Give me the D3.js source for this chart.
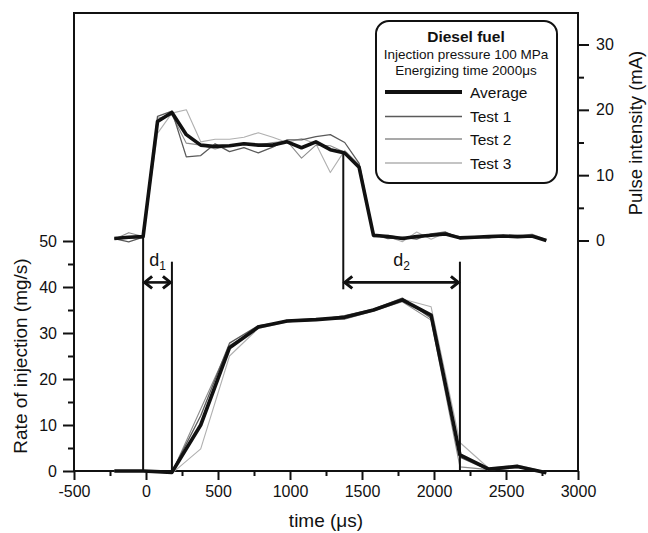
<!DOCTYPE html>
<html>
<head>
<meta charset="utf-8">
<script src="https://cdn.jsdelivr.net/npm/d3@7"></script>
<style>
    body { margin: 0; background: #fff; }
    svg { display: block; font-family: "Liberation Sans", Arial, sans-serif; }
</style>
</head>
<body>
<div id="graphContainer"></div>
<script>
"use strict";

// Pulse intensity (mA), sampled every 100 us
const pulseTime = [-220, -120, -20, 80, 180, 280, 380, 480, 580, 680, 780, 880, 980, 1080, 1180, 1280,
    1380, 1480, 1580, 1680, 1780, 1880, 1980, 2080, 2180, 2280, 2380, 2480, 2580, 2680, 2780];
const pulseAvg = [0.3, 0.5, 0.6, 18.2, 19.6, 16.2, 14.6, 14.4, 14.5, 14.8, 14.6, 14.6, 15.1, 14.2, 15.1, 13.9,
    13.4, 11.2, 0.8, 0.6, 0.3, 0.6, 0.8, 1.0, 0.4, 0.5, 0.6, 0.7, 0.6, 0.7, 0.0];
const pulseTest1 = [0.3, -0.2, 0.5, 19.0, 19.8, 12.8, 13.0, 14.8, 13.6, 14.2, 13.4, 14.3, 15.4, 15.4, 15.9, 16.2,
    15.0, 11.8, 0.9, 0.3, 0.5, 0.2, 1.0, 1.3, 0.3, 0.6, 0.4, 0.8, 0.5, 0.6, 0.1];
const pulseTest2 = [0.2, 1.2, 0.6, 18.7, 19.2, 14.9, 14.6, 14.0, 14.5, 14.9, 14.6, 15.0, 15.2, 12.6, 14.6, 14.5,
    13.5, 11.0, 0.6, 0.8, 0.4, 0.4, 0.9, 1.1, 0.6, 0.5, 0.7, 0.6, 0.8, 0.7, 0.0];
const pulseTest3 = [0.4, 0.4, 0.6, 16.4, 19.5, 20.0, 15.1, 15.5, 15.5, 15.8, 16.5, 15.8, 15.0, 15.6, 14.8, 10.4,
    13.8, 11.6, 0.5, 0.6, -0.2, 1.3, 0.2, 1.2, 0.4, 0.4, 0.6, 0.7, 0.6, 1.0, 0.1];

// Rate of injection (mg/s), sampled every 200 us
const rateTime = [-220, -20, 180, 380, 580, 780, 980, 1180, 1380, 1580, 1780, 1980, 2180, 2380, 2580, 2780];
const rateAvg = [0, 0, -0.3, 10.0, 26.8, 31.3, 32.6, 32.9, 33.4, 35.0, 37.2, 33.9, 3.5, 0.4, 1.0, -0.4];
const rateTest1 = [0, 0, -0.2, 12.0, 27.8, 31.6, 32.5, 32.8, 33.8, 35.2, 37.6, 33.2, 3.0, 0.2, 0.8, -0.3];
const rateTest2 = [0, 0, -0.4, 13.5, 27.3, 31.1, 32.8, 33.1, 33.0, 34.8, 36.8, 32.8, 0.9, 0.3, 1.1, -0.5];
const rateTest3 = [0, -0.1, -0.5, 4.8, 25.0, 31.0, 32.4, 32.9, 33.3, 35.0, 37.4, 35.7, 6.2, 0.6, 1.3, -0.2];

// Axis ticks
const xTicks = [-500, 0, 500, 1000, 1500, 2000, 2500, 3000];
const xMinorTicks = [-250, 250, 750, 1250, 1750, 2250, 2750];
const rateTicks = [0, 10, 20, 30, 40, 50];
const rateMinorTicks = [5, 15, 25, 35, 45];
const pulseTicks = [0, 10, 20, 30];
const pulseMinorTicks = [5, 15, 25];

// Delay markers (us) and their heights
const d1Times = [-20, 180];
const d2Times = [1370, 2180];
const d2StartPulse = 13.5;
const arrowRate = 41;
const markerTopRate = 45.5;

const legendTitle = ["Diesel fuel", "Injection pressure 100 MPa", "Energizing time 2000\u03bcs"];
const seriesNames = ["Average", "Test 1", "Test 2", "Test 3"];

const styles = {
    "Average": { color: "#111", width: 3.6 },
    "Test 1": { color: "#5a5a5a", width: 1.3 },
    "Test 2": { color: "#8c8c8c", width: 1.1 },
    "Test 3": { color: "#b0b0b0", width: 1.1 }
};

const graphInfo = {
    width: 648,
    height: 533,
    left: 74,
    right: 578,
    top: 13,
    bottom: 471
};

const svg = d3.select("#graphContainer").append("svg")
    .attr("width", graphInfo.width)
    .attr("height", graphInfo.height);

const xScale = d3.scaleLinear().domain([-500, 3000]).range([graphInfo.left, graphInfo.right]);
const rateScale = d3.scaleLinear().domain([0, 50]).range([graphInfo.bottom, 241]);
const pulseScale = d3.scaleLinear().domain([0, 30]).range([240.5, 44.5]);

// Frame
svg.append("path")
    .attr("fill", "none")
    .attr("stroke", "#111")
    .attr("stroke-width", 2)
    .attr("d", `M${graphInfo.left},${graphInfo.bottom}V${graphInfo.top}H${graphInfo.right}V${graphInfo.bottom}Z`);

function styleAxis(g) {
    g.select(".domain").remove();
    g.selectAll(".tick line").attr("stroke", "#111").attr("stroke-width", 2);
    g.selectAll(".tick text").attr("fill", "#111").attr("font-size", 16)
        .attr("font-family", "'Liberation Sans', Arial, sans-serif");
}

// Bottom axis
svg.append("g")
    .attr("transform", `translate(0,${graphInfo.bottom})`)
    .call(d3.axisBottom(xScale).tickValues(xTicks).tickSize(9).tickPadding(6).tickFormat(d => String(d)))
    .call(styleAxis);
svg.append("g")
    .attr("transform", `translate(0,${graphInfo.bottom})`)
    .call(d3.axisBottom(xScale).tickValues(xMinorTicks).tickSize(5).tickFormat(""))
    .call(styleAxis);

// Left axis
svg.append("g")
    .attr("transform", `translate(${graphInfo.left},0)`)
    .call(d3.axisLeft(rateScale).tickValues(rateTicks).tickSize(11).tickPadding(6))
    .call(styleAxis);
svg.append("g")
    .attr("transform", `translate(${graphInfo.left},0)`)
    .call(d3.axisLeft(rateScale).tickValues(rateMinorTicks).tickSize(6).tickFormat(""))
    .call(styleAxis);

// Right axis
svg.append("g")
    .attr("transform", `translate(${graphInfo.right},0)`)
    .call(d3.axisRight(pulseScale).tickValues(pulseTicks).tickSize(11).tickPadding(7))
    .call(styleAxis);
svg.append("g")
    .attr("transform", `translate(${graphInfo.right},0)`)
    .call(d3.axisRight(pulseScale).tickValues(pulseMinorTicks).tickSize(6).tickFormat(""))
    .call(styleAxis);

// Axis titles
svg.append("text")
    .attr("x", (graphInfo.left + graphInfo.right) / 2)
    .attr("y", 527)
    .attr("text-anchor", "middle")
    .attr("font-size", 19)
    .attr("fill", "#111")
    .text("time (\u03bcs)");

svg.append("text")
    .attr("transform", `translate(27,${(rateScale(0) + rateScale(50)) / 2}) rotate(-90)`)
    .attr("text-anchor", "middle")
    .attr("font-size", 19)
    .attr("fill", "#111")
    .text("Rate of injection (mg/s)");

svg.append("text")
    .attr("transform", `translate(642,133) rotate(-90)`)
    .attr("text-anchor", "middle")
    .attr("font-size", 18.5)
    .attr("fill", "#111")
    .text("Pulse intensity (mA)");

// Curves
const pulseSeries = { "Average": pulseAvg, "Test 1": pulseTest1, "Test 2": pulseTest2, "Test 3": pulseTest3 };
const rateSeries = { "Average": rateAvg, "Test 1": rateTest1, "Test 2": rateTest2, "Test 3": rateTest3 };

const pulseLine = d3.line().x(d => xScale(d[0])).y(d => pulseScale(d[1]));
const rateLine = d3.line().x(d => xScale(d[0])).y(d => rateScale(d[1]));

// Draw lightest first so the average sits on top
const drawOrder = ["Test 3", "Test 2", "Test 1", "Average"];

drawOrder.forEach(name => {
    svg.append("path")
        .datum(d3.zip(pulseTime, pulseSeries[name]))
        .attr("fill", "none")
        .attr("stroke", styles[name].color)
        .attr("stroke-width", styles[name].width)
        .attr("stroke-linejoin", "round")
        .attr("d", pulseLine);
    svg.append("path")
        .datum(d3.zip(rateTime, rateSeries[name]))
        .attr("fill", "none")
        .attr("stroke", styles[name].color)
        .attr("stroke-width", styles[name].width)
        .attr("stroke-linejoin", "round")
        .attr("d", rateLine);
});

// Delay markers
const marker = svg.append("g")
    .attr("stroke", "#111")
    .attr("stroke-width", 2)
    .attr("fill", "none");

function vLine(x, y1, y2) {
    marker.append("line").attr("x1", x).attr("x2", x).attr("y1", y1).attr("y2", y2);
}

function arrow(x1, x2, y) {
    marker.append("line")
        .attr("x1", x1 + 1).attr("x2", x2 - 1).attr("y1", y).attr("y2", y)
        .attr("stroke-width", 2.6);
    marker.append("path")
        .attr("stroke-width", 3)
        .attr("stroke-linejoin", "miter")
        .attr("d", `M${x1 + 9},${y - 6}L${x1 + 1.5},${y}L${x1 + 9},${y + 6}` +
            `M${x2 - 9},${y - 6}L${x2 - 1.5},${y}L${x2 - 9},${y + 6}`);
}

vLine(xScale(d1Times[0]), pulseScale(pulseAvg[2]), rateScale(0));
vLine(xScale(d1Times[1]), rateScale(markerTopRate), rateScale(0));
vLine(xScale(d2Times[0]), pulseScale(d2StartPulse), rateScale(arrowRate - 1.5));
vLine(xScale(d2Times[1]), rateScale(markerTopRate), rateScale(0));

arrow(xScale(d1Times[0]), xScale(d1Times[1]), rateScale(arrowRate));
arrow(xScale(d2Times[0]), xScale(d2Times[1]), rateScale(arrowRate));

function delayLabel(x, sub) {
    const t = svg.append("text")
        .attr("x", x)
        .attr("y", rateScale(arrowRate) - 16)
        .attr("text-anchor", "middle")
        .attr("font-size", 18)
        .attr("fill", "#111");
    t.append("tspan").text("d");
    t.append("tspan").attr("font-size", 12).attr("dy", 4).text(sub);
}

delayLabel((xScale(d1Times[0]) + xScale(d1Times[1])) / 2, "1");
delayLabel((xScale(d2Times[0]) + xScale(d2Times[1])) / 2, "2");

// Legend
const legend = svg.append("g");

legend.append("rect")
    .attr("x", 376)
    .attr("y", 21)
    .attr("width", 181)
    .attr("height", 162)
    .attr("rx", 13)
    .attr("fill", "#fff")
    .attr("stroke", "#111")
    .attr("stroke-width", 2);

legend.append("text")
    .attr("x", 466).attr("y", 42)
    .attr("text-anchor", "middle")
    .attr("font-size", 15.5)
    .attr("font-weight", "bold")
    .attr("fill", "#111")
    .text(legendTitle[0]);

legend.append("text")
    .attr("x", 466).attr("y", 58.5)
    .attr("text-anchor", "middle")
    .attr("font-size", 13.5)
    .attr("fill", "#111")
    .text(legendTitle[1]);

legend.append("text")
    .attr("x", 466).attr("y", 74.5)
    .attr("text-anchor", "middle")
    .attr("font-size", 13.5)
    .attr("fill", "#111")
    .text(legendTitle[2]);

const legendRows = [92, 116.5, 139, 163];

seriesNames.forEach((name, i) => {
    legend.append("line")
        .attr("x1", 385).attr("x2", 462)
        .attr("y1", legendRows[i]).attr("y2", legendRows[i])
        .attr("stroke", styles[name].color)
        .attr("stroke-width", name === "Average" ? 4 : 1.3);
    legend.append("text")
        .attr("x", 470).attr("y", legendRows[i] + 5.5)
        .attr("font-size", 15.5)
        .attr("fill", "#111")
        .text(name);
});
</script>
</body>
</html>
